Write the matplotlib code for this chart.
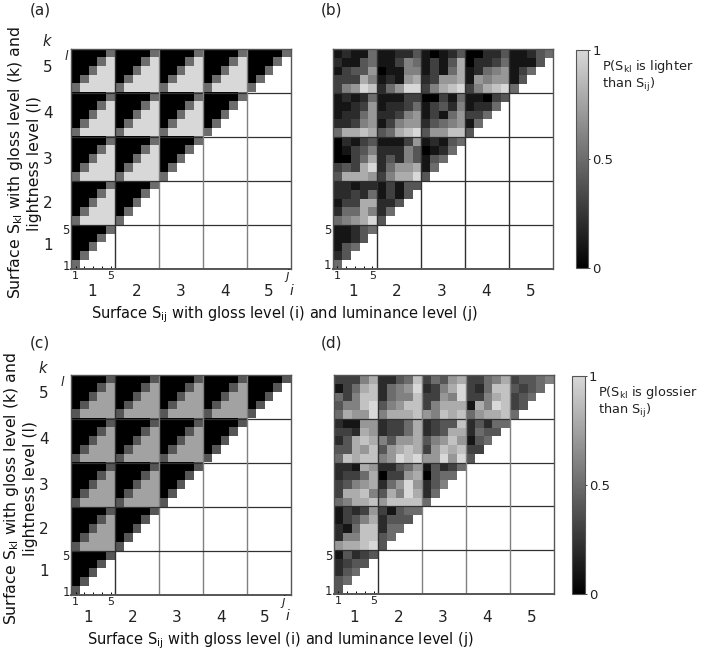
import numpy as np
import matplotlib
matplotlib.use('Agg')
import matplotlib.pyplot as plt
from matplotlib.colors import LinearSegmentedColormap

plt.rcParams['font.family'] = 'DejaVu Sans'
plt.rcParams['mathtext.default'] = 'regular'

W, H = 702, 656

# cell values are P * 10, rows run from the top of the matrix, blanks are left off
panel_a = [
    [0,0,0,0,5, 0,0,0,0,5, 0,0,0,0,5, 0,0,0,0,5, 0,0,0,0,5],
    [0,0,0,5,10, 0,0,0,5,10, 0,0,0,5,10, 0,0,0,5,10, 0,0,0,5],
    [0,0,5,10,10, 0,0,5,10,10, 0,0,5,10,10, 0,0,5,10,10, 0,0,5],
    [0,5,10,10,10, 0,5,10,10,10, 0,5,10,10,10, 0,5,10,10,10, 0,5],
    [5,10,10,10,10, 5,10,10,10,10, 5,10,10,10,10, 5,10,10,10,10, 5],
    [0,0,0,0,5, 0,0,0,0,5, 0,0,0,0,5, 0,0,0,0,5],
    [0,0,0,5,10, 0,0,0,5,10, 0,0,0,5,10, 0,0,0,5],
    [0,0,5,10,10, 0,0,5,10,10, 0,0,5,10,10, 0,0,5],
    [0,5,10,10,10, 0,5,10,10,10, 0,5,10,10,10, 0,5],
    [5,10,10,10,10, 5,10,10,10,10, 5,10,10,10,10, 5],
    [0,0,0,0,5, 0,0,0,0,5, 0,0,0,0,5],
    [0,0,0,5,10, 0,0,0,5,10, 0,0,0,5],
    [0,0,5,10,10, 0,0,5,10,10, 0,0,5],
    [0,5,10,10,10, 0,5,10,10,10, 0,5],
    [5,10,10,10,10, 5,10,10,10,10, 5],
    [0,0,0,0,5, 0,0,0,0,5],
    [0,0,0,5,10, 0,0,0,5],
    [0,0,5,10,10, 0,0,5],
    [0,5,10,10,10, 0,5],
    [5,10,10,10,10, 5],
    [0,0,0,0,5],
    [0,0,0,5],
    [0,0,5],
    [0,5],
    [5],
]

panel_b = [
    [1,2,1,1,5, 1,1,2,2,4, 1,0,1,2,4, 0,0,2,2,4, 1,1,2,4,5],
    [2,1,1,4,5, 1,1,3,6,5, 1,3,1,4,8, 0,2,2,3,5, 1,1,1,4],
    [1,3,4,4,7, 0,1,1,6,6, 1,3,1,5,8, 1,2,5,6,7, 1,3,5],
    [3,3,3,8,6, 1,2,1,7,8, 2,3,7,7,8, 1,7,6,7,7, 1,4],
    [3,6,7,10,9, 2,5,7,10,10, 3,6,8,9,10, 3,6,8,9,10, 5],
    [1,2,1,2,5, 1,1,1,3,3, 0,0,3,1,5, 1,1,0,3,4],
    [1,1,2,3,7, 1,2,2,3,5, 1,3,4,2,6, 1,2,2,5],
    [1,2,2,5,7, 2,2,3,6,7, 1,3,1,5,7, 3,3,5],
    [2,2,3,6,7, 1,3,6,7,7, 2,4,5,6,7, 1,5],
    [5,8,8,9,8, 4,5,8,9,10, 4,7,7,9,9, 4],
    [0,2,1,3,4, 1,1,1,3,7, 1,2,1,4,5],
    [0,1,3,4,6, 2,2,2,6,4, 0,1,2,5],
    [0,0,3,5,8, 2,4,2,6,4, 1,4,5],
    [3,4,3,8,10, 2,5,7,7,8, 1,5],
    [4,8,8,8,7, 3,6,8,8,10, 4],
    [2,2,1,2,2, 1,3,1,4,4],
    [2,2,3,2,5, 1,3,1,4],
    [1,3,3,8,8, 2,2,4],
    [2,5,5,8,6, 2,5],
    [5,6,7,8,10, 4],
    [1,1,2,4,5],
    [1,1,2,4],
    [1,4,5],
    [2,4],
    [5],
]

panel_c = [
    [0,0,0,0,4, 0,0,0,0,4, 0,0,0,0,4, 0,0,0,0,4, 0,0,0,0,4],
    [0,0,0,4,7.5, 0,0,0,4,7.5, 0,0,0,4,7.5, 0,0,0,4,7.5, 0,0,0,4],
    [0,0,4,7.5,7.5, 0,0,4,7.5,7.5, 0,0,4,7.5,7.5, 0,0,4,7.5,7.5, 0,0,4],
    [0,4,7.5,7.5,7.5, 0,4,7.5,7.5,7.5, 0,4,7.5,7.5,7.5, 0,4,7.5,7.5,7.5, 0,4],
    [4,7.5,7.5,7.5,7.5, 4,7.5,7.5,7.5,7.5, 4,7.5,7.5,7.5,7.5, 4,7.5,7.5,7.5,7.5, 4],
    [0,0,0,0,4, 0,0,0,0,4, 0,0,0,0,4, 0,0,0,0,4],
    [0,0,0,4,7.5, 0,0,0,4,7.5, 0,0,0,4,7.5, 0,0,0,4],
    [0,0,4,7.5,7.5, 0,0,4,7.5,7.5, 0,0,4,7.5,7.5, 0,0,4],
    [0,4,7.5,7.5,7.5, 0,4,7.5,7.5,7.5, 0,4,7.5,7.5,7.5, 0,4],
    [4,7.5,7.5,7.5,7.5, 4,7.5,7.5,7.5,7.5, 4,7.5,7.5,7.5,7.5, 4],
    [0,0,0,0,4, 0,0,0,0,4, 0,0,0,0,4],
    [0,0,0,4,7.5, 0,0,0,4,7.5, 0,0,0,4],
    [0,0,4,7.5,7.5, 0,0,4,7.5,7.5, 0,0,4],
    [0,4,7.5,7.5,7.5, 0,4,7.5,7.5,7.5, 0,4],
    [4,7.5,7.5,7.5,7.5, 4,7.5,7.5,7.5,7.5, 4],
    [0,0,0,0,4, 0,0,0,0,4],
    [0,0,0,4,7.5, 0,0,0,4],
    [0,0,4,7.5,7.5, 0,0,4],
    [0,4,7.5,7.5,7.5, 0,4],
    [4,7.5,7.5,7.5,7.5, 4],
    [0,0,0,0,4],
    [0,0,0,4],
    [0,0,4],
    [0,4],
    [4],
]

panel_d = [
    [3,3,3,6,8, 2,2,4,5,9, 3,5,4,7,8, 3,3,5,6,8, 3,4,4,5,6],
    [1,3,5,8,9, 2,5,6,7,10, 2,3,6,8,10, 3,2,5,9,9, 4,3,4,5],
    [5,3,6,9,9, 2,5,6,6,9, 3,3,7,6,10, 3,3,6,8,9, 3,4,5],
    [4,6,6,9,10, 4,6,7,9,9, 3,6,8,8,8, 1,8,6,10,9, 3,4],
    [5,8,7,7,10, 6,8,8,8,9, 7,6,9,8,9, 5,7,8,8,9, 5],
    [2,1,1,7,7, 2,3,3,5,8, 2,3,4,4,9, 2,4,2,5,5],
    [3,3,2,8,7, 2,3,3,5,8, 2,3,4,8,8, 2,5,4,4],
    [2,4,8,9,8, 6,4,7,7,8, 4,6,7,9,7, 1,4,5],
    [4,4,8,7,9, 4,7,8,9,8, 3,7,9,8,9, 3,3],
    [5,9,8,9,9, 6,7,10,9,10, 7,7,10,7,10, 4],
    [2,2,1,8,7, 2,2,4,5,7, 1,4,2,3,5],
    [2,3,3,5,8, 0,3,3,7,8, 0,4,5,5],
    [3,4,6,7,8, 2,5,7,10,7, 2,4,6],
    [3,8,8,9,6, 4,8,6,10,8, 2,5],
    [5,6,8,8,9, 7,9,9,9,9, 5],
    [1,3,2,3,7, 3,1,4,5,5],
    [1,3,4,6,8, 2,4,4,4],
    [2,1,5,9,9, 2,5,5],
    [2,6,6,9,9, 4,5],
    [7,8,8,9,10, 4],
    [1,4,2,3,4],
    [2,3,4,4],
    [2,4,5],
    [4,5],
    [4],
]

panel_names = ['(a)', '(b)', '(c)', '(d)']
level_labels = ['1', '2', '3', '4', '5']
xlabel = r'Surface S$_{ij}$ with gloss level (i) and luminance level (j)'
ylabel = 'Surface S$_{kl}$ with gloss level (k) and\nlightness level (l)'

cmap = LinearSegmentedColormap.from_list('bar', ['#000000', '#d8d8d8'])
cmap.set_bad('white')


def to_matrix(rows):
    m = np.full((25, 25), np.nan)
    for r, row in enumerate(rows):
        m[r, :len(row)] = np.array(row) / 10
    return m


def px_axes(x0, y0, x1, y1):
    # pixel box, y measured from the top of the image
    return fig.add_axes([x0 / W, 1 - y1 / H, (x1 - x0) / W, (y1 - y0) / H])


def draw_panel(rows, box, grid_colors):
    ax = px_axes(*box)
    im = ax.imshow(to_matrix(rows), cmap=cmap, vmin=0, vmax=1, aspect='auto',
                   interpolation='nearest')
    for n in range(1, 5):
        ax.axhline(5 * n - 0.5, color='#303030', lw=0.9)
        ax.axvline(5 * n - 0.5, color=grid_colors[n - 1], lw=1.0)
    for s in ax.spines.values():
        s.set_color('#555555')
        s.set_linewidth(1.0)
    ax.spines['bottom'].set_linewidth(1.4)
    ax.set_xticks(range(5))
    ax.set_xticklabels(['1', '', '', '', '5'], fontsize=8, color='#222222')
    ax.set_yticks([20, 24])
    ax.set_yticklabels(['5', '1'], fontsize=8.5, color='#222222')
    ax.tick_params(axis='x', direction='in', length=2.5, width=0.7, pad=1.5)
    ax.tick_params(axis='y', length=0, pad=1)
    return ax, im


fig = plt.figure(figsize=(W / 100, H / 100), dpi=100)

dark, grey = '#303030', '#808080'
ax_a, im = draw_panel(panel_a, (71.3, 48.7, 291.3, 269), [dark, grey, grey, grey])
ax_b, _ = draw_panel(panel_b, (332.7, 49, 553, 268.7), [dark, dark, dark, dark])
ax_c, _ = draw_panel(panel_c, (71.3, 374.7, 291.3, 595), [dark, grey, grey, grey])
ax_d, _ = draw_panel(panel_d, (334, 375, 554, 594), [dark, grey, grey, grey])


def ftext(x, y, s, **kw):
    fig.text(x / W, 1 - y / H, s, **kw)


def block_labels(xs, y, **kw):
    for x, lab in zip(xs, level_labels):
        ftext(x, y, lab, fontsize=11, ha='center', va='center', color='#222222', **kw)


# block labels under each panel
block_labels([92, 137, 181, 225, 269], 291)
block_labels([353, 397, 442, 486, 531], 291)
block_labels([88, 133, 177, 221, 265], 617)
block_labels([354, 399, 443, 487, 532], 617)

# block labels left of panels (a) and (c)
for y, lab in zip([246, 203, 159, 114, 68], level_labels):
    ftext(48, y, lab, fontsize=11, ha='center', va='center', color='#222222')
for y, lab in zip([572, 529, 485, 440, 393], level_labels):
    ftext(44, y, lab, fontsize=11, ha='center', va='center', color='#222222')

# index letters
for x, y, s, fs in [(47, 42, 'k', 10.5), (66, 57, 'l', 9), (287, 276, 'j', 9), (291, 291, 'i', 10),
                    (43, 368, 'k', 10.5), (62, 382, 'l', 9), (283, 602, 'j', 9), (287, 616, 'i', 10)]:
    ftext(x, y, s, fontsize=fs, style='italic', ha='center', va='center', color='#222222')

# panel letters
for (x, y), name in zip([(40, 10), (331, 10), (40, 343), (331, 343)], panel_names):
    ftext(x, y, name, fontsize=11, ha='center', va='center', color='#222222')

# axis titles
ftext(284.5, 315, xlabel, fontsize=10.5, ha='center', va='center', color='#111111')
ftext(280, 641, xlabel, fontsize=10.5, ha='center', va='center', color='#111111')
ftext(24, 163, ylabel, fontsize=11.3, rotation=90, ha='center', va='center',
      multialignment='center', color='#111111')
ftext(20, 489, ylabel, fontsize=11.3, rotation=90, ha='center', va='center',
      multialignment='center', color='#111111')

# colour bars
for box, txt, tx, ty in [((575.7, 50, 588, 268), 'P(S$_{kl}$ is lighter\nthan S$_{ij}$)', 602, 76),
                         ((572, 376, 584.5, 594), 'P(S$_{kl}$ is glossier\nthan S$_{ij}$)', 598, 402)]:
    cax = px_axes(*box)
    cb = fig.colorbar(im, cax=cax)
    cb.set_ticks([0, 0.5, 1])
    cb.set_ticklabels(['0', '0.5', '1'])
    cb.ax.tick_params(labelsize=9.5, length=1.5, width=0.6, pad=1.5, colors='#222222')
    cb.outline.set_edgecolor('#555555')
    cb.outline.set_linewidth(0.8)
    ftext(tx, ty, txt, fontsize=9.3, ha='left', va='center', color='#222222', linespacing=1.15)

fig.savefig('out.png', dpi=100)
